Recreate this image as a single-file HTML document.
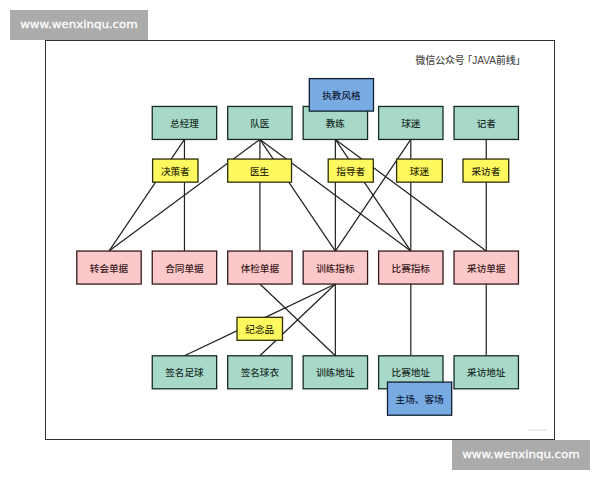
<!DOCTYPE html>
<html lang="zh-CN"><head><meta charset="utf-8"><title>diagram</title>
<style>
html,body{margin:0;padding:0;background:#fff;}
body{width:600px;height:480px;position:relative;overflow:hidden;font-family:"Liberation Sans","Noto Sans CJK SC",sans-serif;}
.frame{position:absolute;left:45px;top:40px;width:508px;height:398px;border:1px solid #333;}
svg{position:absolute;left:0;top:0;}
svg line{stroke:#202020;stroke-width:1.2;}
svg rect{stroke-width:1.3;}
.t{position:absolute;display:flex;align-items:center;justify-content:center;font-size:9.6px;color:#222;font-weight:500;white-space:nowrap;}
.t span{display:block;line-height:1;position:relative;top:0.7px;}
.title{position:absolute;left:415.6px;top:53.5px;font-size:9.8px;color:#464646;font-weight:500;line-height:14px;white-space:nowrap;}
.title .lb{margin-left:-2.2px;}
.title .lat{font-size:10.1px;font-weight:400;}
.wm{position:absolute;width:138px;height:30px;background:#ababab;color:#fff;font-size:11.8px;line-height:29.6px;text-align:center;letter-spacing:0;-webkit-text-stroke:0.3px #fff;font-family:"DejaVu Sans","Liberation Sans",sans-serif;}
.wm span{display:inline-block;transform:scaleY(0.92);transform-origin:50% 64%;}
.tiny{position:absolute;left:528px;top:429px;width:18px;height:2px;background:#ececec;}
</style></head><body>
<div class="frame"></div>
<svg width="600" height="480" viewBox="0 0 600 480">
<line x1="184.45" y1="139.45" x2="109.00" y2="251.05"/>
<line x1="184.45" y1="139.45" x2="184.45" y2="251.05"/>
<line x1="259.90" y1="139.45" x2="109.00" y2="251.05"/>
<line x1="259.90" y1="139.45" x2="259.90" y2="251.05"/>
<line x1="259.90" y1="139.45" x2="335.35" y2="251.05"/>
<line x1="259.90" y1="139.45" x2="410.80" y2="251.05"/>
<line x1="335.35" y1="139.45" x2="335.35" y2="251.05"/>
<line x1="335.35" y1="139.45" x2="410.80" y2="251.05"/>
<line x1="335.35" y1="139.45" x2="486.25" y2="251.05"/>
<line x1="410.80" y1="139.45" x2="335.35" y2="251.05"/>
<line x1="410.80" y1="139.45" x2="410.80" y2="251.05"/>
<line x1="486.25" y1="139.45" x2="486.25" y2="251.05"/>
<line x1="259.90" y1="284.05" x2="335.35" y2="355.80"/>
<line x1="335.35" y1="284.05" x2="184.45" y2="355.80"/>
<line x1="335.35" y1="284.05" x2="259.90" y2="355.80"/>
<line x1="335.35" y1="284.05" x2="335.35" y2="355.80"/>
<line x1="410.80" y1="284.05" x2="410.80" y2="355.80"/>
<line x1="486.25" y1="284.05" x2="486.25" y2="355.80"/>
<rect x="152.25" y="106.45" width="64.40" height="33.00" fill="#a8d9c8" stroke="#162b25"/>
<rect x="227.70" y="106.45" width="64.40" height="33.00" fill="#a8d9c8" stroke="#162b25"/>
<rect x="303.15" y="106.45" width="64.40" height="33.00" fill="#a8d9c8" stroke="#162b25"/>
<rect x="378.60" y="106.45" width="64.40" height="33.00" fill="#a8d9c8" stroke="#162b25"/>
<rect x="454.05" y="106.45" width="64.40" height="33.00" fill="#a8d9c8" stroke="#162b25"/>
<rect x="76.80" y="251.05" width="64.40" height="33.00" fill="#fcc9ca" stroke="#33191c"/>
<rect x="152.25" y="251.05" width="64.40" height="33.00" fill="#fcc9ca" stroke="#33191c"/>
<rect x="227.70" y="251.05" width="64.40" height="33.00" fill="#fcc9ca" stroke="#33191c"/>
<rect x="303.15" y="251.05" width="64.40" height="33.00" fill="#fcc9ca" stroke="#33191c"/>
<rect x="378.60" y="251.05" width="64.40" height="33.00" fill="#fcc9ca" stroke="#33191c"/>
<rect x="454.05" y="251.05" width="64.40" height="33.00" fill="#fcc9ca" stroke="#33191c"/>
<rect x="152.25" y="355.80" width="64.40" height="33.00" fill="#a8d9c8" stroke="#162b25"/>
<rect x="227.70" y="355.80" width="64.40" height="33.00" fill="#a8d9c8" stroke="#162b25"/>
<rect x="303.15" y="355.80" width="64.40" height="33.00" fill="#a8d9c8" stroke="#162b25"/>
<rect x="378.60" y="355.80" width="64.40" height="33.00" fill="#a8d9c8" stroke="#162b25"/>
<rect x="454.05" y="355.80" width="64.40" height="33.00" fill="#a8d9c8" stroke="#162b25"/>
<rect x="152.60" y="159.05" width="45.40" height="23.10" fill="#fdf95e" stroke="#2e2d08"/>
<rect x="227.70" y="159.05" width="63.80" height="23.10" fill="#fdf95e" stroke="#2e2d08"/>
<rect x="328.20" y="159.05" width="45.10" height="23.10" fill="#fdf95e" stroke="#2e2d08"/>
<rect x="396.60" y="159.05" width="45.70" height="23.10" fill="#fdf95e" stroke="#2e2d08"/>
<rect x="463.00" y="159.05" width="45.70" height="23.10" fill="#fdf95e" stroke="#2e2d08"/>
<rect x="237.00" y="317.30" width="45.50" height="23.00" fill="#fdf95e" stroke="#2e2d08"/>
<rect x="309.30" y="78.60" width="64.20" height="32.50" fill="#79abe3" stroke="#101e31"/>
<rect x="387.50" y="382.10" width="64.20" height="33.10" fill="#79abe3" stroke="#101e31"/>
</svg>
<div class="t" style="left:152.25px;top:106.45px;width:64.40px;height:33.00px;color:#1b302a"><span>总经理</span></div>
<div class="t" style="left:227.70px;top:106.45px;width:64.40px;height:33.00px;color:#1b302a"><span>队医</span></div>
<div class="t" style="left:303.15px;top:106.45px;width:64.40px;height:33.00px;color:#1b302a"><span>教练</span></div>
<div class="t" style="left:378.60px;top:106.45px;width:64.40px;height:33.00px;color:#1b302a"><span>球迷</span></div>
<div class="t" style="left:454.05px;top:106.45px;width:64.40px;height:33.00px;color:#1b302a"><span>记者</span></div>
<div class="t" style="left:76.80px;top:252.05px;width:64.40px;height:33.00px;color:#3a2022"><span>转会单据</span></div>
<div class="t" style="left:152.25px;top:252.05px;width:64.40px;height:33.00px;color:#3a2022"><span>合同单据</span></div>
<div class="t" style="left:227.70px;top:252.05px;width:64.40px;height:33.00px;color:#3a2022"><span>体检单据</span></div>
<div class="t" style="left:303.15px;top:252.05px;width:64.40px;height:33.00px;color:#3a2022"><span>训练指标</span></div>
<div class="t" style="left:378.60px;top:252.05px;width:64.40px;height:33.00px;color:#3a2022"><span>比赛指标</span></div>
<div class="t" style="left:454.05px;top:252.05px;width:64.40px;height:33.00px;color:#3a2022"><span>采访单据</span></div>
<div class="t" style="left:152.25px;top:355.80px;width:64.40px;height:33.00px;color:#1b302a"><span>签名足球</span></div>
<div class="t" style="left:227.70px;top:355.80px;width:64.40px;height:33.00px;color:#1b302a"><span>签名球衣</span></div>
<div class="t" style="left:303.15px;top:355.80px;width:64.40px;height:33.00px;color:#1b302a"><span>训练地址</span></div>
<div class="t" style="left:378.60px;top:355.80px;width:64.40px;height:33.00px;color:#1b302a"><span>比赛地址</span></div>
<div class="t" style="left:454.05px;top:355.80px;width:64.40px;height:33.00px;color:#1b302a"><span>采访地址</span></div>
<div class="t" style="left:152.60px;top:160.05px;width:45.40px;height:23.10px;color:#33320c"><span>决策者</span></div>
<div class="t" style="left:227.70px;top:160.05px;width:63.80px;height:23.10px;color:#33320c"><span>医生</span></div>
<div class="t" style="left:328.20px;top:160.05px;width:45.10px;height:23.10px;color:#33320c"><span>指导者</span></div>
<div class="t" style="left:396.60px;top:160.05px;width:45.70px;height:23.10px;color:#33320c"><span>球迷</span></div>
<div class="t" style="left:463.00px;top:160.05px;width:45.70px;height:23.10px;color:#33320c"><span>采访者</span></div>
<div class="t" style="left:237.00px;top:317.30px;width:45.50px;height:23.00px;color:#33320c"><span>纪念品</span></div>
<div class="t" style="left:309.30px;top:78.60px;width:64.20px;height:32.50px;color:#13233c"><span>执教风格</span></div>
<div class="t" style="left:387.50px;top:382.10px;width:64.20px;height:33.10px;color:#13233c"><span>主场、客场</span></div>
<div class="title">微信公众号<span class="lb">「</span><span class="lat">JAVA</span>前线」</div>
<div class="tiny"></div>
<div class="wm" style="left:10px;top:10px"><span>www.wenxinqu.com</span></div>
<div class="wm" style="left:452px;top:440px"><span>www.wenxinqu.com</span></div>
</body></html>
